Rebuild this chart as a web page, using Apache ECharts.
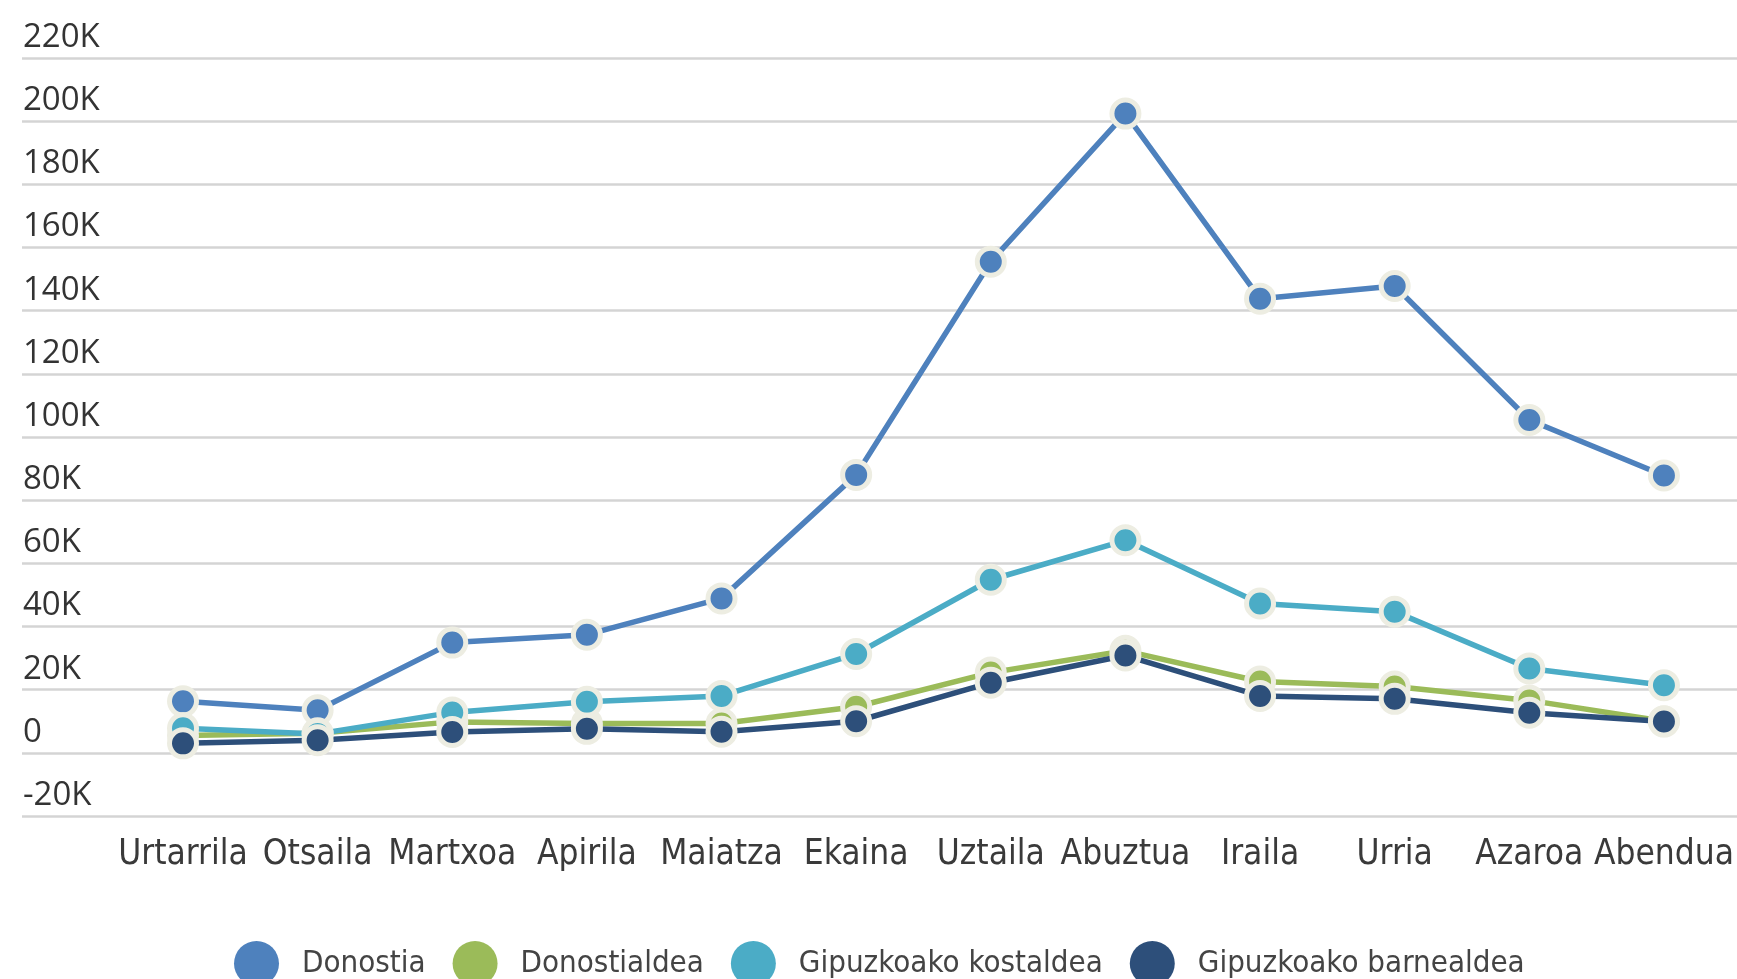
<!DOCTYPE html>
<html>
<head>
<meta charset="utf-8">
<title>Donostia eta Gipuzkoa</title>
<script src="https://cdn.jsdelivr.net/npm/echarts@6/dist/echarts.min.js"></script>
<style>
  html, body { margin: 0; padding: 0; background: #ffffff; }
  #chart { width: 1737px; height: 979px; }
</style>
</head>
<body>
<div id="chart"></div>
<script>
// Months along the x axis
const months = ['Urtarrila', 'Otsaila', 'Martxoa', 'Apirila', 'Maiatza', 'Ekaina',
                'Uztaila', 'Abuztua', 'Iraila', 'Urria', 'Azaroa', 'Abendua'];

// Series names as shown in the legend
const seriesNames = ['Donostia', 'Donostialdea', 'Gipuzkoako kostaldea', 'Gipuzkoako barnealdea'];

// Monthly values per area
const donostia     = [16300, 13500, 34900, 37400, 48900, 88000, 155500, 202400, 143800, 147800, 105400, 87800];
const donostialdea = [5500, 6200, 9800, 9300, 9300, 14600, 25400, 32300, 22600, 21000, 16600, 10000];
const kostaldea    = [7800, 6000, 12800, 16200, 18000, 31300, 54800, 67300, 47300, 44700, 26700, 21400];
const barnealdea   = [3000, 4000, 6600, 7600, 6700, 10000, 22200, 30800, 18000, 17100, 12700, 9900];

// Value axis range and step
const yMin = -20000;
const yMax = 220000;
const yStep = 20000;

const colors = ['#4e81bd', '#9bbb59', '#4bacc6', '#2d4f7a'];
const values = [donostia, donostialdea, kostaldea, barnealdea];

const chart = echarts.init(document.getElementById('chart'), null, { renderer: 'canvas' });

const sideFont = "'Liberation Sans Narrow', 'DejaVu Sans Condensed', Lato, sans-serif";

const option = {
  animation: false,
  backgroundColor: '#ffffff',
  color: colors,
  grid: [
    { left: 22, right: 0, top: 58, bottom: 163 },
    { left: 183, right: 70, top: 58, bottom: 163 }
  ],
  xAxis: [
    { gridIndex: 0, type: 'category', data: months, show: false },
    {
      gridIndex: 1,
      type: 'category',
      data: months,
      boundaryGap: false,
      axisLine: { show: false },
      axisTick: { show: false },
      splitLine: { show: false },
      axisLabel: {
        margin: 21,
        fontSize: 35,
        fontFamily: sideFont,
        color: '#3a3a3a',
        interval: 0
      }
    }
  ],
  yAxis: [
    {
      gridIndex: 0,
      type: 'value',
      min: yMin,
      max: yMax,
      interval: yStep,
      axisLine: { show: false },
      axisTick: { show: false },
      splitLine: { show: true, lineStyle: { color: '#d4d4d4', width: 2.5 } },
      axisLabel: {
        inside: true,
        margin: 1,
        verticalAlign: 'bottom',
        fontSize: 33,
        lineHeight: 33,
        padding: [0, 0, 4, 0],
        fontFamily: "'Open Sans', sans-serif",
        color: '#333333',
        formatter: v => (v === 0 ? '0' : (v / 1000) + 'K')
      }
    },
    {
      gridIndex: 1,
      type: 'value',
      min: yMin,
      max: yMax,
      interval: yStep,
      show: false,
      splitLine: { show: false }
    }
  ],
  legend: {
    data: seriesNames,
    icon: 'circle',
    left: 229,
    top: 936,
    itemWidth: 45,
    itemHeight: 45,
    itemGap: 27,
    itemStyle: { borderWidth: 0 },
    textStyle: {
      fontSize: 31,
      fontFamily: sideFont,
      color: '#444444',
      padding: [0, 0, 0, 18]
    }
  },
  series: seriesNames.map((name, i) => ({
    name: name,
    type: 'line',
    xAxisIndex: 1,
    yAxisIndex: 1,
    data: values[i],
    symbol: 'circle',
    symbolSize: 27,
    showSymbol: true,
    lineStyle: { width: 5.5, color: colors[i] },
    itemStyle: { color: colors[i], borderColor: '#edede2', borderWidth: 5 },
    emphasis: { disabled: true }
  }))
};

chart.setOption(option);
</script>
</body>
</html>
